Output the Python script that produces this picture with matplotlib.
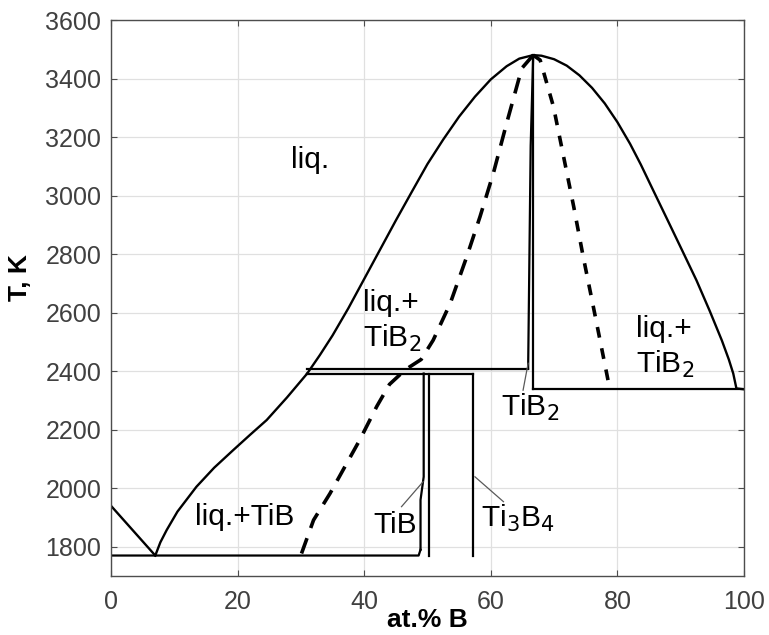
import numpy as np
import matplotlib.pyplot as plt

plt.rcParams['font.family'] = ['Liberation Sans', 'DejaVu Sans']

# liquidus, Ti side (0 -> eutectic)
liq_ti_x = [0, 7.0]
liq_ti_T = [1940, 1770]

# liquidus TiB branch (eutectic -> peritectic)
liq_tib_x = [7.0, 7.8, 8.8, 10.5, 13.5, 16.3, 19.3, 22.0, 24.6, 27.8, 31.0]
liq_tib_T = [1770, 1815, 1857, 1920, 2005, 2070, 2130, 2183, 2233, 2310, 2392]

# liquidus dome over TiB2
dome_x = [31.0, 33.0, 35.0, 37.5, 40.0, 42.5, 45.0, 47.5, 50.0, 52.5, 55.0, 57.5,
          60.0, 62.5, 64.5, 66.7, 68.0, 70.0, 72.0, 74.0, 76.0, 78.0, 80.0, 82.0,
          83.7, 85.7, 88.0, 90.2, 92.5, 94.6, 96.5, 97.6, 98.3, 98.8, 100]
dome_T = [2392, 2455, 2522, 2615, 2715, 2815, 2915, 3012, 3108, 3192, 3270, 3338,
          3397, 3442, 3468, 3480, 3478, 3466, 3444, 3411, 3368, 3315, 3251, 3177,
          3106, 3016, 2913, 2814, 2710, 2605, 2505, 2440, 2392, 2341, 2338]

# dashed curves
dash_l_x = [30.1, 32.0, 34.6, 39.3, 42.0, 44.0, 46.5, 49.0, 50.9, 53.6, 56.2, 58.3,
            60.4, 62.5, 64.9, 66.7]
dash_l_T = [1777, 1891, 1982, 2165, 2280, 2355, 2405, 2440, 2506, 2632, 2791, 2928,
            3076, 3247, 3435, 3480]
dash_r_x = [66.7, 67.8, 69.9, 71.5, 73.1, 74.6, 76.2, 78.3, 78.8]
dash_r_T = [3480, 3463, 3304, 3133, 2962, 2791, 2620, 2393, 2338]

# invariant lines
eut_x = [0, 48.6, 48.9]
eut_T = [1770, 1770, 1790]
peri_hi_x = [31.0, 65.9]
peri_hi_T = [2408, 2408]
peri_lo_x = [31.0, 57.2]
peri_lo_T = [2392, 2392]
eut2_x = [66.7, 100]
eut2_T = [2338, 2338]

# compound boundaries
tib_l_x = [48.9, 48.9, 49.4, 49.4]
tib_l_T = [1790, 1960, 2039, 2392]
tib_r_x = [50.2, 50.2]
tib_r_T = [1770, 2392]
ti3b4_x = [57.2, 57.2]
ti3b4_T = [1770, 2392]
tib2_l_x = [65.9, 66.3, 66.7]
tib2_l_T = [2408, 3170, 3480]
tib2_r_x = [66.7, 66.7]
tib2_r_T = [3480, 2338]

fig = plt.figure(figsize=(7.69, 6.35), dpi=100)
ax = fig.add_axes([0.1443, 0.0929, 0.8232, 0.8756])

lw = 1.7
ax.plot(liq_ti_x, liq_ti_T, color='black', lw=lw)
ax.plot(liq_tib_x, liq_tib_T, color='black', lw=lw, solid_joinstyle='round')
ax.plot(dome_x, dome_T, color='black', lw=lw, solid_joinstyle='round')
ax.plot(dash_l_x, dash_l_T, color='black', lw=2.6, dashes=(4.5, 3))
ax.plot(dash_r_x, dash_r_T, color='black', lw=2.6, dashes=(3, 3))
for xs, ts in [(eut_x, eut_T), (peri_hi_x, peri_hi_T), (peri_lo_x, peri_lo_T),
               (eut2_x, eut2_T), (tib_l_x, tib_l_T), (tib_r_x, tib_r_T),
               (ti3b4_x, ti3b4_T), (tib2_l_x, tib2_l_T), (tib2_r_x, tib2_r_T)]:
    ax.plot(xs, ts, color='black', lw=1.6)

# region labels
fs = 21.5
ax.text(31.4, 3122, 'liq.', fontsize=fs, ha='center', va='center')
ax.text(39.8, 2571, 'liq.+\nTiB$_2$', fontsize=fs, ha='left', va='center', linespacing=1.25)
ax.text(83.0, 2482, 'liq.+\nTiB$_2$', fontsize=fs, ha='left', va='center', linespacing=1.25)
ax.text(13.3, 1902, 'liq.+TiB', fontsize=fs, ha='left', va='center')

# phase annotations with leaders
ax.plot([45.9, 49.3], [1937, 2022], color='0.35', lw=0.9)
ax.text(41.5, 1874, 'TiB', fontsize=fs, ha='left', va='center')
ax.plot([57.5, 62.0], [2039, 1954], color='0.35', lw=0.9)
ax.text(58.4, 1896, 'Ti$_3$B$_4$', fontsize=fs, ha='left', va='center')
ax.plot([65.1, 65.9], [2335, 2427], color='0.35', lw=0.9)
ax.text(61.6, 2275, 'TiB$_2$', fontsize=fs, ha='left', va='center')

ax.set_xlim(0, 100)
ax.set_ylim(1700, 3600)
ax.set_xticks(np.arange(0, 101, 20))
ax.set_yticks(np.arange(1800, 3601, 200))
ax.grid(True, color='0.88', lw=0.9)
ax.set_axisbelow(True)
ax.tick_params(direction='in', top=True, right=True, labelsize=18,
               colors='0.3', labelcolor='0.25', length=4)
ax.tick_params(axis='x', pad=10)
ax.tick_params(axis='y', pad=7)
for s in ax.spines.values():
    s.set_color('0.3')
    s.set_linewidth(1.0)

ax.set_xlabel('at.% B', fontsize=19, fontweight='bold', labelpad=-4)
ax.set_ylabel('T, K', fontsize=19, fontweight='bold')
ax.yaxis.set_label_coords(-0.125, 0.536)

fig.savefig('out.png', dpi=100)
